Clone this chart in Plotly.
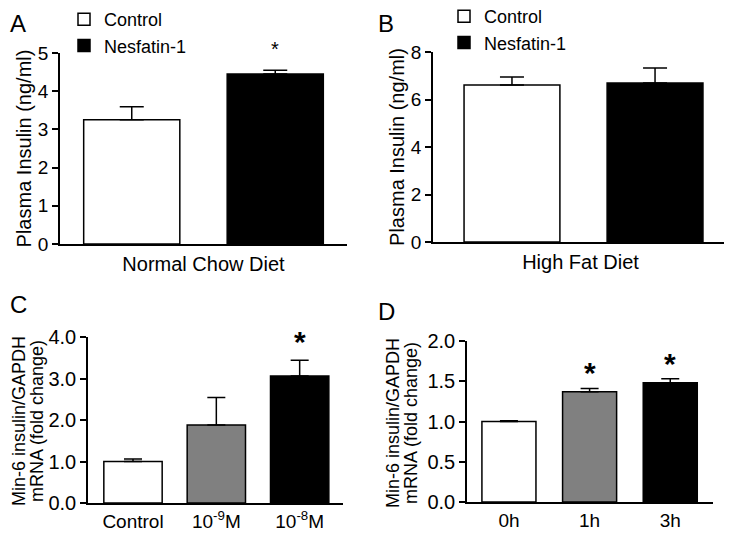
import plotly.graph_objects as go

# ---- data ----
A_groups = ["Control", "Nesfatin-1"]
A_mean = [3.25, 4.45]
A_sem = [0.34, 0.10]
A_sig = [False, True]

B_groups = ["Control", "Nesfatin-1"]
B_mean = [6.61, 6.70]
B_sem = [0.34, 0.63]

C_cats = ["Control", "10<sup>-9</sup>M", "10<sup>-8</sup>M"]
C_mean = [1.00, 1.88, 3.06]
C_sem = [0.06, 0.66, 0.38]
C_sig = [False, False, True]

D_cats = ["0h", "1h", "3h"]
D_mean = [1.00, 1.37, 1.48]
D_sem = [0.01, 0.04, 0.05]
D_sig = [False, True, True]

CD_title = ["Min-6 insulin/GAPDH", "mRNA (fold change)"]

FONT = "Arial, 'Liberation Sans', sans-serif"
W, H = 732, 534
OFF = 8  # page body margin offset
colors2 = ["white", "black"]
colors3 = ["white", "#808080", "black"]


def px_x(a, b):
    return [(a - OFF) / W, (b - OFF) / W]


def px_y(top, bot):
    return [(H - (bot - OFF)) / H, (H - (top - OFF)) / H]


def fx(x):
    return (x - OFF) / W


def fy(y):
    return 1 - (y - OFF) / H


fig = go.Figure()

# Panel A
for i, g in enumerate(A_groups):
    fig.add_trace(go.Bar(
        x=[g], y=[A_mean[i]], name=g, xaxis="x", yaxis="y",
        marker=dict(color=colors2[i], line=dict(color="black", width=1.5)),
        width=0.67, legend="legend",
        error_y=dict(type="data", array=[A_sem[i]], arrayminus=[0], symmetric=False,
                     color="black", thickness=1.5, width=12),
    ))
# Panel B
for i, g in enumerate(B_groups):
    fig.add_trace(go.Bar(
        x=[g], y=[B_mean[i]], name=g, xaxis="x2", yaxis="y2",
        marker=dict(color=colors2[i], line=dict(color="black", width=1.5)),
        width=0.67, legend="legend2",
        error_y=dict(type="data", array=[B_sem[i]], arrayminus=[0], symmetric=False,
                     color="black", thickness=1.5, width=12),
    ))
# Panel C
fig.add_trace(go.Bar(
    x=C_cats, y=C_mean, xaxis="x3", yaxis="y3", showlegend=False,
    marker=dict(color=colors3, line=dict(color="black", width=1.5)), width=0.7,
    error_y=dict(type="data", array=C_sem, arrayminus=[0] * 3, symmetric=False,
                 color="black", thickness=1.5, width=9),
))
# Panel D
fig.add_trace(go.Bar(
    x=D_cats, y=D_mean, xaxis="x4", yaxis="y4", showlegend=False,
    marker=dict(color=colors3, line=dict(color="black", width=1.5)), width=0.67,
    error_y=dict(type="data", array=D_sem, arrayminus=[0] * 3, symmetric=False,
                 color="black", thickness=1.5, width=9),
))

axis_common = dict(showline=True, linecolor="black", linewidth=1.5, showgrid=False,
                   zeroline=False, automargin=False,
                   tickfont=dict(family=FONT, size=19, color="black"))
yax_common = dict(axis_common, ticks="outside", ticklen=6, tickwidth=1.5, tickcolor="black")
yax_cd = dict(yax_common, tickfont=dict(family=FONT, size=20, color="black"))
title_font = dict(family=FONT, size=20, color="black")
title_font_cd = dict(family=FONT, size=18, color="black")
xt_font = dict(family=FONT, size=20, color="black")

fig.update_layout(
    width=W, height=H, margin=dict(l=0, r=0, t=0, b=0, autoexpand=False),
    paper_bgcolor="white", plot_bgcolor="white", barmode="overlay",
    font=dict(family=FONT, color="black"),
    xaxis=dict(axis_common, domain=px_x(60, 347), anchor="y", range=[-0.5, 1.5],
               categoryorder="array", categoryarray=A_groups, showticklabels=False, ticks="",
               title=dict(text="Normal Chow Diet", font=xt_font, standoff=12)),
    yaxis=dict(yax_common, domain=px_y(53, 244), anchor="x", range=[0, 5], dtick=1,
               title=dict(text="Plasma Insulin (ng/ml)", font=title_font, standoff=1)),
    xaxis2=dict(axis_common, domain=px_x(433, 728), anchor="y2", range=[-0.552, 1.51],
                categoryorder="array", categoryarray=B_groups, showticklabels=False, ticks="",
                title=dict(text="High Fat Diet", font=xt_font, standoff=12)),
    yaxis2=dict(yax_common, domain=px_y(52, 242), anchor="x2", range=[0, 8], dtick=2,
                title=dict(text="Plasma Insulin (ng/ml)", font=title_font, standoff=1)),
    xaxis3=dict(axis_common, domain=px_x(88, 343), anchor="y3", range=[-0.54, 2.52], ticks=""),
    yaxis3=dict(yax_cd, domain=px_y(337, 503), anchor="x3", range=[0, 4], dtick=1,
                tickformat=".1f"),
    xaxis4=dict(axis_common, domain=px_x(467, 713), anchor="y4", range=[-0.52, 2.53], ticks=""),
    yaxis4=dict(yax_cd, domain=px_y(341, 502), anchor="x4", range=[0, 2], dtick=0.5,
                tickformat=".1f"),
    legend=dict(x=fx(64), y=fy(1), xanchor="left", yanchor="top", bgcolor="rgba(0,0,0,0)",
                font=dict(family=FONT, size=18, color="black"), tracegroupgap=0),
    legend2=dict(x=fx(444), y=fy(-2), xanchor="left", yanchor="top", bgcolor="rgba(0,0,0,0)",
                 font=dict(family=FONT, size=18, color="black"), tracegroupgap=0),
)

anns = []
# significance stars
for i, s in enumerate(A_sig):
    if s:
        anns.append(dict(x=A_groups[i], y=A_mean[i] + A_sem[i], xref="x", yref="y", text="*",
                         showarrow=False, yanchor="bottom", yshift=8,
                         font=dict(family=FONT, size=20, color="black")))
for i, s in enumerate(C_sig):
    if s:
        anns.append(dict(x=C_cats[i], y=C_mean[i] + C_sem[i], xref="x3", yref="y3", text="<b>*</b>",
                         showarrow=False, yanchor="bottom", yshift=0,
                         font=dict(family=FONT, size=30, color="black")))
for i, s in enumerate(D_sig):
    if s:
        anns.append(dict(x=D_cats[i], y=D_mean[i] + D_sem[i], xref="x4", yref="y4", text="<b>*</b>",
                         showarrow=False, yanchor="bottom", yshift=-3,
                         font=dict(family=FONT, size=30, color="black")))

# two-line y titles for panels C and D (tight line spacing)
for (x1, x2, ymid) in [(fx(19), fx(37), fy(421)), (fx(393), fx(411), fy(423))]:
    for line, lx in zip(CD_title, (x1, x2)):
        anns.append(dict(x=lx, y=ymid, xref="paper", yref="paper", text=line,
                         textangle=-90, showarrow=False, xanchor="center", yanchor="middle",
                         font=title_font_cd))

# panel letters
letters = [("A", 0, 1, "left", "top"), ("B", fx(386), 1, "center", "top"),
           ("C", 0, fy(304), "left", "middle"), ("D", fx(386), fy(311), "center", "middle")]
for letter, lx, ly, xa, ya in letters:
    anns.append(dict(x=lx, y=ly, xref="paper", yref="paper", text=letter,
                     showarrow=False, xanchor=xa, yanchor=ya,
                     font=dict(family=FONT, size=24, color="black")))
fig.update_layout(annotations=anns)

fig.write_html("out.html")
